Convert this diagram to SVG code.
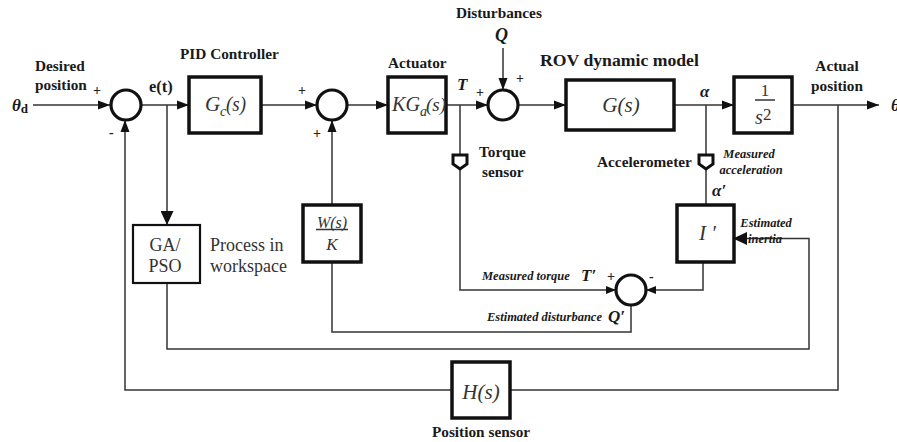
<svg xmlns="http://www.w3.org/2000/svg" width="897" height="442" viewBox="0 0 897 442">
<style>
text{font-family:"Liberation Serif","Times New Roman",serif;fill:#1a1a1a}
.b{font-weight:bold;font-size:15.300px}
.m{font-style:italic;font-size:21px;fill:#333}
.sub{font-style:italic;font-size:14px;fill:#333}
.i{font-style:italic;font-weight:bold;font-size:12.500px}
.s{font-style:italic;font-weight:bold;font-size:17px}
.p{font-size:14px;font-weight:bold;fill:#222}
.n{font-size:18px;fill:#333}
.c{text-anchor:middle}
.box{fill:#fff;stroke:#111;stroke-width:3.500}
.thin{stroke-width:2.200}
.sum{fill:#fff;stroke:#111;stroke-width:3.200}
.w{fill:none;stroke:#333;stroke-width:1.500}
.sen{fill:#fff;stroke:#111;stroke-width:3}
</style>
<defs>
<marker id="a" markerUnits="userSpaceOnUse" markerWidth="13" markerHeight="10" refX="12" refY="5" orient="auto"><path d="M0 0.500L12 5L0 9.500Z" fill="#111"/></marker>
<marker id="t" markerUnits="userSpaceOnUse" markerWidth="11" markerHeight="9" refX="10" refY="4.500" orient="auto"><path d="M0 0.500L10 4.500L0 8.500Z" fill="#111"/></marker>
<marker id="l" markerUnits="userSpaceOnUse" markerWidth="15" markerHeight="13" refX="14" refY="6.500" orient="auto"><path d="M0 0L14 6.500L0 13Z" fill="#111"/></marker>
</defs>
<g id="connectors">
<path class="w" d="M33 105H110" marker-end="url(#a)"/>
<path class="w" d="M141 105H189" marker-end="url(#a)"/>
<path class="w" d="M167 105V225" marker-end="url(#l)"/>
<path class="w" d="M261 105H317" marker-end="url(#a)"/>
<path class="w" d="M347 105H388" marker-end="url(#a)"/>
<path class="w" d="M446 105H488" marker-end="url(#a)"/>
<path class="w" d="M503 48V90" marker-end="url(#a)"/>
<path class="w" d="M518 105H566" marker-end="url(#a)"/>
<path class="w" d="M674 105H734" marker-end="url(#a)"/>
<path class="w" d="M792 105H879" marker-end="url(#a)"/>
<path class="w" d="M706 105V205"/>
<path class="w" d="M460 105V290H616" marker-end="url(#t)"/>
<path class="w" d="M703 262V290H646" marker-end="url(#t)"/>
<path class="w" d="M631 305V332H332V262"/>
<path class="w" d="M332 205V120" marker-end="url(#a)"/>
<path class="w" d="M167 283V349H809V238.500H733" marker-end="url(#l)"/>
<path class="w" d="M838 105V390H510"/>
<path class="w" d="M452 390H125V120" marker-end="url(#a)"/>
</g>
<g id="sum1"><circle class="sum" cx="126" cy="105" r="15"/><text class="p" x="93" y="95">+</text><text class="p" x="109" y="137">-</text></g>
<g id="sum2"><circle class="sum" cx="332" cy="105" r="15"/><text class="p" x="298" y="95">+</text><text class="p" x="313" y="138">+</text></g>
<g id="sum3"><circle class="sum" cx="503" cy="105" r="15"/><text class="p" x="476" y="97">+</text><text class="p" x="516" y="83">+</text></g>
<g id="sum4"><circle class="sum" cx="631" cy="290" r="15"/><text class="p" x="607" y="281">+</text><text class="p" x="649" y="281">-</text></g>
<g id="gc"><rect class="box" x="189" y="77" width="72" height="56"/><text class="m" x="205" y="111">G</text><text class="sub" x="220" y="116">c</text><text class="m" x="226" y="111" textLength="20" lengthAdjust="spacingAndGlyphs">(s)</text></g>
<g id="actuator"><rect class="box" x="388" y="77" width="58" height="56"/><text class="m" x="392" y="111" textLength="28" lengthAdjust="spacingAndGlyphs">KG</text><text class="sub" x="420" y="116">a</text><text class="m" x="426" y="111" style="font-size:19px">(s)</text></g>
<g id="gs"><rect class="box" x="566" y="80" width="108" height="50"/><text class="m c" x="621" y="112">G(s)</text></g>
<g id="integrator"><rect class="box" x="734" y="77" width="58" height="56"/><path class="w" d="M755 100H775"/><text class="n c" x="765" y="96" style="font-size:17px">1</text><text class="m" x="755" y="124" style="font-size:20px">s</text><text class="n" x="763" y="120" style="font-size:17px">2</text></g>
<g id="torque-sensor"><path class="sen" d="M453 155H467V164L460 169L453 164Z"/></g>
<g id="accelerometer"><path class="sen" d="M699 155H713V164L706 169L699 164Z"/></g>
<g id="inertia"><rect class="box" x="677" y="205" width="57" height="57"/><text class="m" x="699" y="240">I ′</text></g>
<g id="wk"><rect class="box" x="303" y="205" width="58" height="57"/><text class="m c" x="332" y="228" style="font-size:16px">W(s)</text><path class="w" d="M316 229.500H348"/><text class="m c" x="332" y="250" style="font-size:17px">K</text></g>
<g id="ga-pso"><rect class="box thin" x="133" y="225" width="67" height="58"/><text class="n c" x="165" y="251">GA/</text><text class="n c" x="165" y="272">PSO</text></g>
<g id="hs"><rect class="box" x="452" y="362" width="58" height="56"/><text class="m c" x="481" y="399">H(s)</text></g>
<g id="labels">
<text class="s" x="12" y="111">θ<tspan font-style="normal" font-size="13" dy="2">d</tspan></text>
<text class="b" x="35" y="71">Desired</text>
<text class="b" x="35" y="90">position</text>
<text class="b" x="149" y="92" style="font-size:16.500px">e(t)</text>
<text class="b" x="180" y="59">PID Controller</text>
<text class="b" x="388" y="68">Actuator</text>
<text class="s" x="457" y="90">T</text>
<text class="b" x="456" y="18">Disturbances</text>
<text class="s" x="495" y="41" style="font-size:18px">Q</text>
<text class="b" x="540" y="66" style="font-size:17.700px">ROV dynamic model</text>
<text class="s" x="700" y="97">α</text>
<text class="b c" x="837" y="71">Actual</text>
<text class="b c" x="837" y="91">position</text>
<text class="s" x="891" y="111">θ</text>
<text class="b" x="479" y="157">Torque</text>
<text class="b" x="482" y="177">sensor</text>
<text class="b" x="597" y="167">Accelerometer</text>
<text class="i c" x="749" y="158">Measured</text>
<text class="i c" x="751" y="174">acceleration</text>
<text class="s" x="712" y="196">α′</text>
<text class="i c" x="766" y="227">Estimated</text>
<text class="i c" x="765" y="243">inertia</text>
<text class="i" x="482" y="280">Measured torque</text>
<text class="s" x="581" y="281">T′</text>
<text class="i" x="487" y="321">Estimated disturbance</text>
<text class="s" x="608" y="322">Q′</text>
<text class="n" x="210" y="251">Process in</text>
<text class="n" x="210" y="272">workspace</text>
<text class="b c" x="481" y="437">Position sensor</text>
</g>
</svg>
